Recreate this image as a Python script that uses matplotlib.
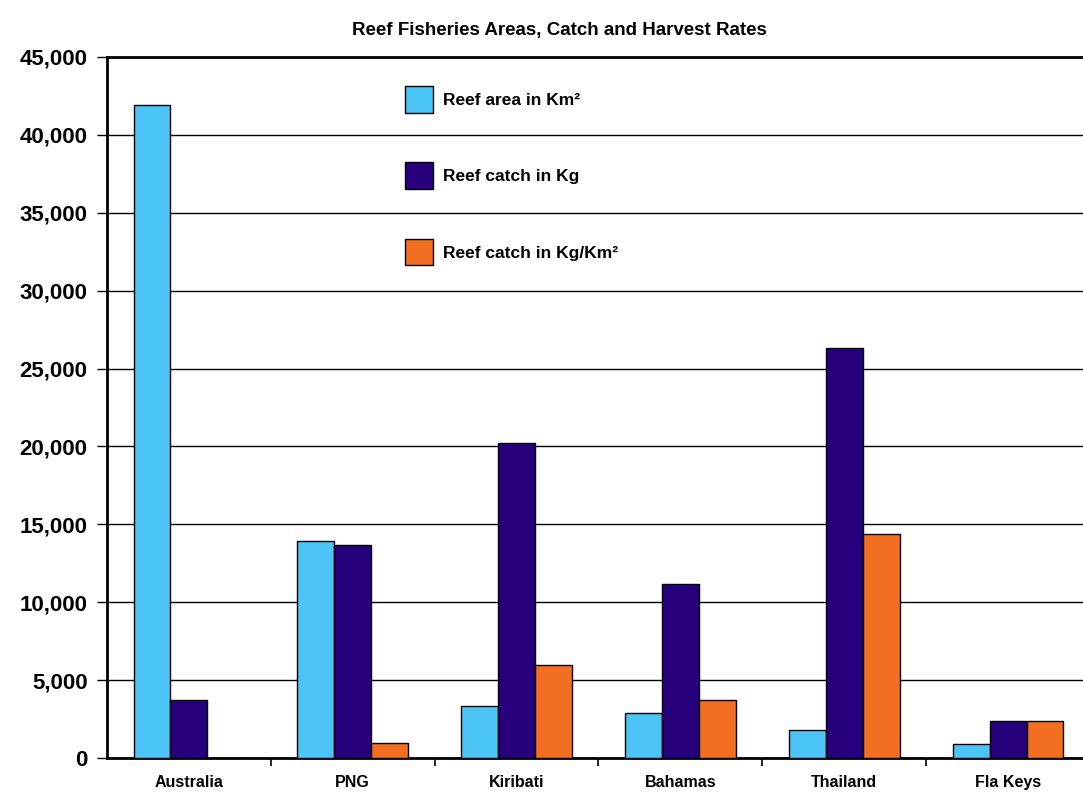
import numpy as np
import matplotlib
matplotlib.use("Agg")
import matplotlib.pyplot as plt
from matplotlib.ticker import FuncFormatter, FixedLocator

# data
countries = ["Australia", "PNG", "Kiribati", "Bahamas", "Thailand", "Fla Keys"]
reef_area = [41900, 13900, 3320, 2920, 1780, 930]
reef_catch = [3700, 13650, 20250, 11200, 26350, 2350]
catch_per_km2 = [0, 950, 5950, 3750, 14400, 2350]

series_labels = ["Reef area in Km\u00b2", "Reef catch in Kg", "Reef catch in Kg/Km\u00b2"]
colors = ["#4CC4F6", "#27007E", "#F26E21"]

narrow = ["Liberation Sans Narrow", "Liberation Sans", "DejaVu Sans"]

fig = plt.figure(figsize=(10.83, 7.93), dpi=100)
fig.patch.set_facecolor("white")
ax = fig.add_axes([107 / 1083, 1 - 758 / 793, 983 / 1083, 701 / 793])

x = np.arange(len(countries))
w = 0.225
for i, vals in enumerate([reef_area, reef_catch, catch_per_km2]):
    ax.bar(x + (i - 1) * w, vals, width=w, color=colors[i], edgecolor="black",
           linewidth=1, label=series_labels[i], zorder=3)

ax.set_xlim(-0.5, len(countries) - 0.5)
ax.set_ylim(0, 45000)
ax.set_yticks(np.arange(0, 45001, 5000))
ax.yaxis.set_major_formatter(FuncFormatter(lambda v, p: f"{int(v):,}"))
ax.yaxis.grid(True, color="black", linewidth=1, zorder=0)

ax.set_xticks(x)
ax.set_xticklabels(countries)
ax.xaxis.set_minor_locator(FixedLocator(np.arange(0.5, len(countries) - 0.5, 1)))
ax.tick_params(axis="x", which="major", length=0, pad=12)
ax.tick_params(axis="x", which="minor", length=6, width=1.2, direction="out")
ax.tick_params(axis="y", length=7, width=1, direction="out", pad=7)

for lab in ax.get_yticklabels():
    lab.set_fontfamily(["Liberation Sans", "DejaVu Sans"])
    lab.set_fontweight("bold")
    lab.set_fontsize(16)
for lab in ax.get_xticklabels():
    lab.set_fontfamily(narrow)
    lab.set_fontweight("bold")
    lab.set_fontsize(11.5)

for s in ["left", "bottom", "top"]:
    ax.spines[s].set_linewidth(2)
ax.spines["right"].set_visible(False)

fig.text(0.517, 0.962, "Reef Fisheries Areas, Catch and Harvest Rates",
         ha="center", va="center", fontsize=13.5, fontweight="bold", family=narrow)

ax.legend(loc="upper left", bbox_to_anchor=(0.303, 0.9586), frameon=False,
          borderpad=0, borderaxespad=0, handlelength=1.6, handleheight=2.0,
          handletextpad=0.57, labelspacing=2.85,
          prop={"family": narrow, "weight": "bold", "size": 12.5})

fig.savefig("out.png", dpi=100, facecolor="white")
